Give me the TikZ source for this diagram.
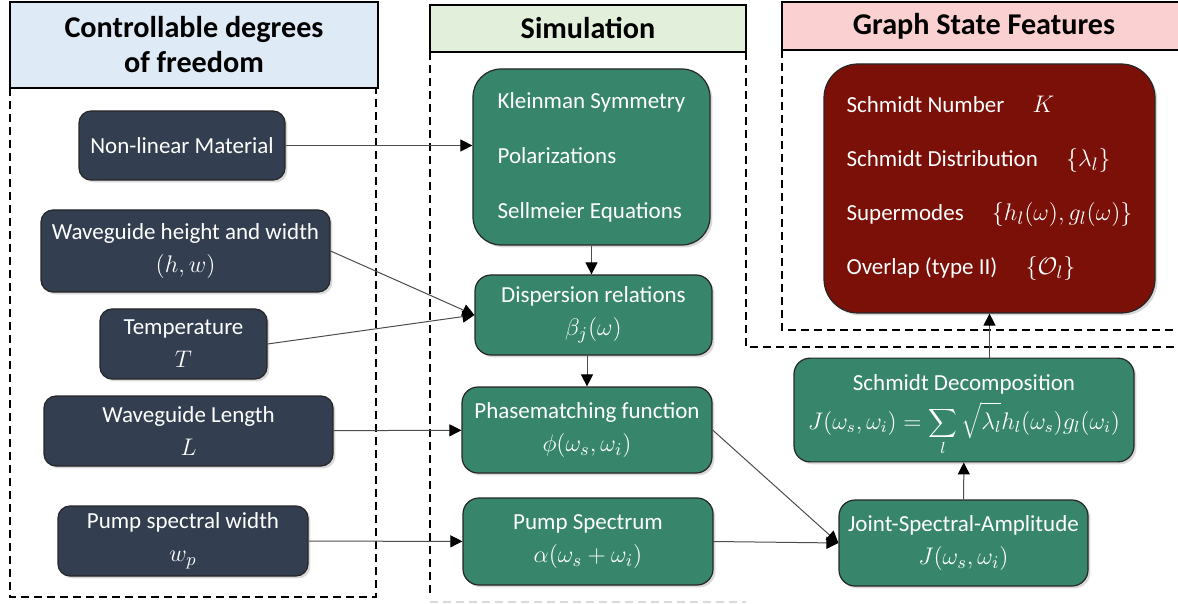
\documentclass[tikz,border=0pt]{standalone}
\usepackage{fontspec}
\setmainfont{Carlito}[Scale=0.92]
\usetikzlibrary{arrows.meta,shadows}

\definecolor{paramcol}{RGB}{51,63,80}
\definecolor{simcol}{RGB}{55,134,108}
\definecolor{featcol}{RGB}{122,16,8}
\definecolor{hdrblue}{RGB}{222,234,246}
\definecolor{hdrgreen}{RGB}{226,239,218}
\definecolor{hdrpink}{RGB}{250,208,208}

\tikzset{
  box/.style={draw=black!85, line width=0.6pt, rounded corners=6pt, text=white,
    align=center, font=\fontsize{12.5}{16.5}\selectfont,
    drop shadow={shadow xshift=1.2pt, shadow yshift=-1.2pt, opacity=0.3}},
  param/.style={box, fill=paramcol},
  sim/.style={box, fill=simcol, rounded corners=8pt},
  header/.style={draw=black, line width=0.8pt, align=center,
    font=\fontsize{16.4}{17.5}\selectfont\bfseries},
  panel/.style={line width=0.8pt, dash pattern=on 4pt off 2.5pt},
  link/.style={->, draw=black!70, line width=0.5pt}
}

\begin{document}
\begin{tikzpicture}[x=0.5pt, y=-0.5pt, >={Triangle[length=6pt,width=6pt,color=black]}]
\clip (0,0) rectangle (1178,604);

% headers
\node[header, fill=hdrblue, minimum width=184pt, minimum height=43pt] (hdrdof) at (194,45) {Controllable degrees\\of freedom};
\node[header, fill=hdrgreen, minimum width=158pt, minimum height=23.5pt] (hdrsim) at (588,28.5) {Simulation};
\node[header, fill=hdrpink, minimum width=202pt, minimum height=24pt] (hdrfeat) at (984,26) {Graph State Features};

% panels
\draw[panel] (10,88) -- (10,597) -- (376,597) -- (376,88);
\draw[panel] (430,52) -- (430,593);
\draw[panel] (746,52) -- (746,347) -- (1178,347);
\draw[panel] (782,50) -- (782,330) -- (1178,330);
\draw[panel, black!15] (430,602) -- (746,602);

% controllable parameters
\node[param, minimum width=103pt, minimum height=34.5pt] (nlm) at (182,145.5) {Non-linear Material};
\node[param, minimum width=144.5pt, minimum height=41pt] (wghw) at (185.5,251) {Waveguide height and width\\$(h,w)$};
\node[param, minimum width=83.5pt, minimum height=35pt] (temp) at (183.5,344) {Temperature\\$T$};
\node[param, minimum width=144.5pt, minimum height=35pt] (wglen) at (188.5,431) {Waveguide Length\\$L$};
\node[param, minimum width=125pt, minimum height=35pt] (pumpw) at (183,541) {Pump spectral width\\$w_p$};

% simulation
\node[sim, rounded corners=14pt, minimum width=118.5pt, minimum height=88pt, align=left] (klein) at (591.5,157)
  {Kleinman Symmetry\\[11pt] Polarizations\\[11pt] Sellmeier Equations};
\node[sim, minimum width=118.5pt, minimum height=40pt] (disp) at (593.5,315) {Dispersion relations\\$\beta_j(\omega)$};
\node[sim, minimum width=125pt, minimum height=43pt] (phase) at (587,430) {Phasematching function\\$\phi(\omega_s,\omega_i)$};
\node[sim, minimum width=125pt, minimum height=43.5pt] (pumps) at (588,541.5) {Pump Spectrum\\$\alpha(\omega_s+\omega_i)$};
\node[sim, minimum width=124.5pt, minimum height=43pt] (jsa) at (963.5,543) {Joint-Spectral-Amplitude\\$J(\omega_s,\omega_i)$};
\node[sim, minimum width=170pt, minimum height=51pt] (schmidt) at (964,410)
  {\rule{0pt}{13pt}Schmidt Decomposition\\[3pt]
   {\fontsize{11.6}{14}\selectfont$\displaystyle J(\omega_s,\omega_i)=\sum_l\sqrt{\lambda_l}h_l(\omega_s)g_l(\omega_i)$}};

% graph state features
\node[box, fill=featcol, rounded corners=17pt, minimum width=165.5pt, minimum height=124.5pt, align=left] (feat) at (989.5,188.5)
  {Schmidt Number \quad$K$\\[10.5pt]
   Schmidt Distribution \quad$\{\lambda_l\}$\\[10.5pt]
   Supermodes \quad$\{h_l(\omega),g_l(\omega)\}$\\[10.5pt]
   Overlap (type II) \quad$\{\mathcal{O}_l\}$};

% connections
\draw[link] (nlm.east) -- (nlm.east -| klein.west);
\draw[link] (wghw.east) -- (disp.west);
\draw[link] (temp.east) -- (disp.west);
\draw[link] (klein.south) -- (klein.south |- disp.north);
\draw[link] (phase.north |- disp.south) -- (phase.north);
\draw[link] (wglen) -- (phase);
\draw[link] (pumpw) -- (pumps);
\draw[link] (phase.east) -- (jsa.west);
\draw[link] (pumps.east) -- (jsa.west);
\draw[link] (jsa) -- (schmidt);
\draw[link] (feat.south |- schmidt.north) -- (feat.south);
\end{tikzpicture}
\end{document}
